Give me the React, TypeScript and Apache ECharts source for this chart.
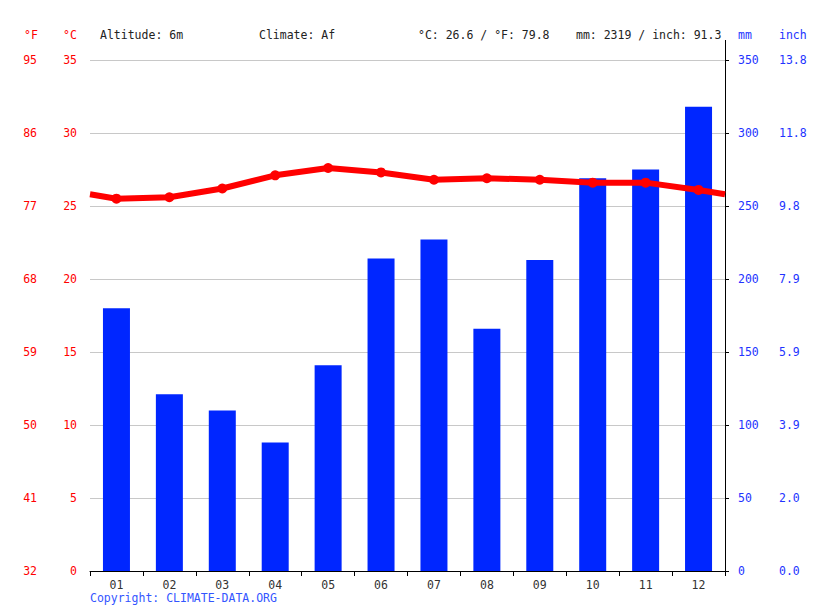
import React, { useEffect, useRef } from 'react';
import * as echarts from 'echarts';

const months = ['01', '02', '03', '04', '05', '06', '07', '08', '09', '10', '11', '12'];
const precipitationMm = [180, 121, 110, 88, 141, 214, 227, 166, 213, 269, 275, 318];
const temperatureC = [25.5, 25.6, 26.2, 27.1, 27.6, 27.3, 26.8, 26.9, 26.8, 26.6, 26.6, 26.1];
// value where the curve leaves the plot at both edges (between Dec and Jan)
const edgeTempC = 25.8;
const headerTexts = ['Altitude: 6m', 'Climate: Af', '°C: 26.6 / °F: 79.8', 'mm: 2319 / inch: 91.3'];
const headerX = [100, 259, 418, 576];

const FONT = '"DejaVu Sans Mono", monospace';
const RED = '#ff0000';
const BLUE = '#2233ff';

export default function App() {
  const chartRef = useRef<HTMLDivElement>(null);

  useEffect(() => {
    if (!chartRef.current) return;
    const chart = echarts.init(chartRef.current, null, { renderer: 'svg' });

    const lineData: any[] = [{ value: [0.5, edgeTempC], symbol: 'none' }];
    temperatureC.forEach((t, i) => lineData.push({ value: [i + 1, t] }));
    lineData.push({ value: [12.5, edgeTempC], symbol: 'none' });

    const labelBase = { fontFamily: FONT, fontSize: 11.5 };

    const option = {
      animation: false,
      grid: { left: 90, right: 90, top: 60, bottom: 40 },
      xAxis: [
        {
          type: 'category',
          data: months,
          axisLine: { lineStyle: { color: '#000', width: 1 } },
          axisTick: { show: true, length: 5, lineStyle: { color: '#000' } },
          axisLabel: { ...labelBase, color: '#333', margin: 8 },
          splitLine: { show: false }
        },
        {
          type: 'value',
          min: 0.5,
          max: 12.5,
          show: false
        }
      ],
      yAxis: [
        {
          type: 'value',
          min: 0,
          max: 35,
          interval: 5,
          position: 'left',
          axisLine: { show: false },
          axisTick: { show: false },
          axisLabel: { ...labelBase, color: RED, margin: 13 },
          splitLine: { show: true, lineStyle: { color: '#c8c8c8', width: 1 } }
        },
        {
          type: 'value',
          min: 0,
          max: 35,
          interval: 5,
          position: 'left',
          offset: 40,
          axisLine: { show: false },
          axisTick: { show: false },
          axisLabel: {
            ...labelBase,
            color: RED,
            margin: 13,
            formatter: (v: number) => String(Math.round(v * 9 / 5 + 32))
          },
          splitLine: { show: false }
        },
        {
          type: 'value',
          min: 0,
          max: 350,
          interval: 50,
          position: 'right',
          axisLine: { show: true, lineStyle: { color: '#000', width: 1 } },
          axisTick: { show: true, length: 4, lineStyle: { color: '#000' } },
          axisLabel: { ...labelBase, color: BLUE, margin: 13 },
          splitLine: { show: false }
        },
        {
          type: 'value',
          min: 0,
          max: 350,
          interval: 50,
          position: 'right',
          offset: 41,
          axisLine: { show: false },
          axisTick: { show: false },
          axisLabel: {
            ...labelBase,
            color: BLUE,
            margin: 13,
            formatter: (v: number) => (v / 25.4).toFixed(1)
          },
          splitLine: { show: false }
        }
      ],
      graphic: [
        ...headerTexts.map((t, i) => ({
          type: 'text',
          left: headerX[i],
          top: 29,
          style: { text: t, fill: '#222', font: `11.5px ${FONT}` }
        })),
        { type: 'text', left: 24, top: 29, style: { text: '°F', fill: RED, font: `11.5px ${FONT}` } },
        { type: 'text', left: 63, top: 29, style: { text: '°C', fill: RED, font: `11.5px ${FONT}` } },
        { type: 'text', left: 738, top: 29, style: { text: 'mm', fill: BLUE, font: `11.5px ${FONT}` } },
        { type: 'text', left: 779, top: 29, style: { text: 'inch', fill: BLUE, font: `11.5px ${FONT}` } },
        {
          type: 'line',
          shape: { x1: 725.5, y1: 40, x2: 725.5, y2: 60 },
          style: { stroke: '#000', lineWidth: 1 }
        },
        {
          type: 'text',
          left: 90,
          top: 592,
          style: { text: 'Copyright: CLIMATE-DATA.ORG', fill: '#3355ff', font: `11.5px ${FONT}` }
        }
      ],
      series: [
        {
          type: 'bar',
          xAxisIndex: 0,
          yAxisIndex: 2,
          data: precipitationMm,
          barWidth: 27,
          itemStyle: { color: '#0026ff' },
          z: 2
        },
        {
          type: 'line',
          xAxisIndex: 1,
          yAxisIndex: 0,
          data: lineData,
          symbol: 'circle',
          symbolSize: 10,
          lineStyle: { color: RED, width: 6 },
          itemStyle: { color: RED },
          z: 3
        }
      ]
    };

    chart.setOption(option);
    return () => chart.dispose();
  }, []);

  return <div ref={chartRef} style={{ width: 815, height: 611, position: 'absolute', left: 0, top: 0 }} />;
}
